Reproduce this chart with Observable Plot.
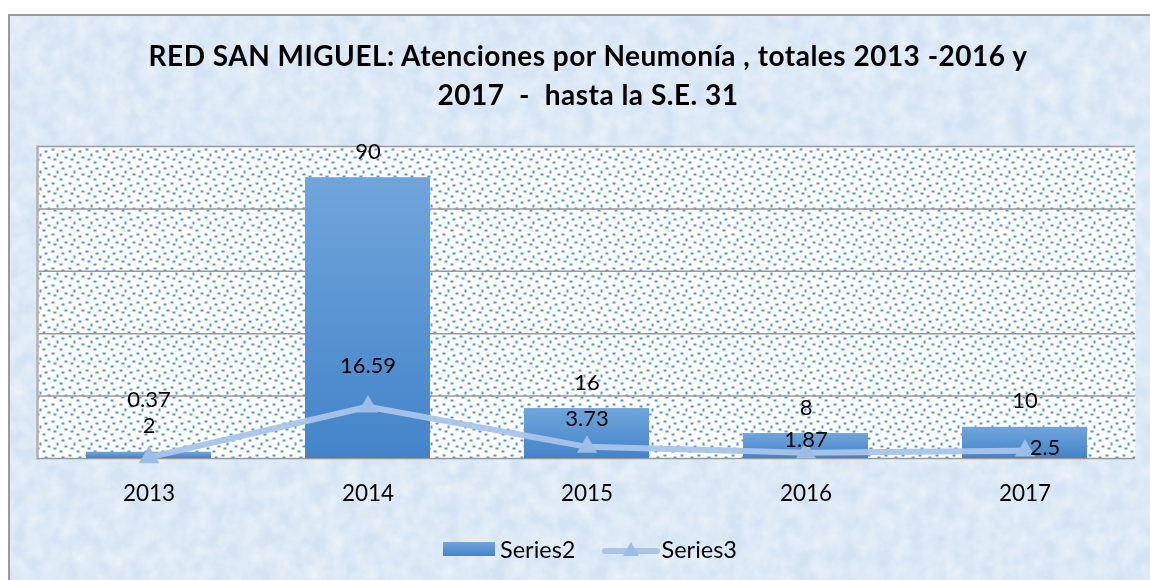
<!DOCTYPE html>
<html><head><meta charset="utf-8">
<script src="https://cdn.jsdelivr.net/npm/d3@7"></script>
<script src="https://cdn.jsdelivr.net/npm/@observablehq/plot@0.6"></script>
<style>
html{overflow:hidden;scrollbar-width:none;}
::-webkit-scrollbar{display:none;width:0;height:0;}
html,body{margin:0;padding:0;background:#fff;}
body{width:1150px;height:580px;overflow:hidden;position:relative;font-family:Lato,"Open Sans",sans-serif;}
#frame{position:fixed;left:8px;top:14px;right:-20px;bottom:-20px;border-left:2px solid #9a9a9a;border-top:2px solid #9a9a9a;background:#dce9f7;overflow:hidden;}
#frame svg{position:absolute;left:0;top:0;}
#title{position:absolute;left:588px;top:36px;transform:translateX(-50%);text-align:center;font-weight:bold;font-size:28px;letter-spacing:0.5px;line-height:39px;color:#000;white-space:pre;}
#chart{position:absolute;left:0;top:130px;}
#legend{position:absolute;left:443px;top:535px;display:flex;align-items:center;font-size:23.5px;color:#000;}
#legend .item{display:flex;align-items:center;}
</style>
</head><body>
<div id="frame">
<svg width="1200" height="600"><defs><filter id="tex"><feTurbulence type="fractalNoise" baseFrequency="0.06" numOctaves="3" seed="4"/><feColorMatrix type="matrix" values="0 0 0 0 1  0 0 0 0 1  0 0 0 0 1  0 0 0 -1.4 1.0"/></filter></defs><rect width="1200" height="600" fill="#d5e4f4"/><rect width="1200" height="600" filter="url(#tex)" opacity="0.6"/></svg>
</div>
<div id="title">RED SAN MIGUEL: Atenciones por Neumonía , totales 2013 -2016 y
2017  -  hasta la S.E. 31</div>
<div id="chart"></div>
<div id="legend"></div>
<script>
const years = ["2013", "2014", "2015", "2016", "2017"];
const series2 = [2, 90, 16, 8, 10];
const series3 = [0.37, 16.59, 3.73, 1.87, 2.5];
const series2Labels = ["2", "90", "16", "8", "10"];
const series3Labels = ["0.37", "16.59", "3.73", "1.87", "2.5"];
const yTicks = [0, 20, 40, 60, 80, 100];
const seriesNames = ["Series2", "Series3"];

const rows = years.map((y, i) => ({year: y, s2: series2[i], s3: series3[i], l2: series2Labels[i], l3: series3Labels[i]}));

// label placement offsets (style, px)
const s3Offsets = [[0, -57], [0, -41], [0, -28], [0, -13], [20, -3]];

const lineColor = "#a9c5ea";
const triColor = "#9dbce6";

const marks = [
  Plot.frame({fill: "url(#dots)", stroke: "none"}),
  Plot.ruleY(yTicks, {stroke: "#999999", strokeWidth: 1.5}),
  Plot.frame({anchor: "left", stroke: "#b0b0b0", strokeWidth: 2.5}),
  Plot.barY(rows, {x: "year", y: "s2", fill: "url(#barGrad)"}),
  Plot.text(rows, {x: "year", y: "s2", text: "l2", dy: -26, fontSize: 22, fill: "#000"}),
  Plot.line(rows, {x: "year", y: "s3", stroke: lineColor, strokeWidth: 6, strokeOpacity: 0.95}),
  Plot.dot(rows, {x: "year", y: "s3", symbol: "triangle", r: 7.5, fill: triColor, stroke: "none"}),
  ...rows.map((d, i) => Plot.text([d], {x: "year", y: "s3", text: "l3", dx: s3Offsets[i][0], dy: s3Offsets[i][1], fontSize: 22, fill: "#000"}))
];

const svg = Plot.plot({
  width: 1150,
  height: 400,
  marginLeft: 37,
  marginRight: 15,
  marginTop: 16,
  marginBottom: 72,
  style: {background: "transparent", fontFamily: "Lato, 'Open Sans', sans-serif", fontSize: "22.5px", color: "#000", overflow: "visible"},
  x: {type: "band", domain: years, paddingInner: 0.43, paddingOuter: 0.215, tickSize: 0, tickPadding: 27, label: null},
  y: {domain: [0, 100], axis: null},
  marks
});

const ns = "http://www.w3.org/2000/svg";
const defs = document.createElementNS(ns, "defs");
defs.innerHTML = `
<pattern id="dots" patternUnits="userSpaceOnUse" width="17" height="17">
  <rect width="17" height="17" fill="#ffffff"/>
  <g fill="#5595d7">
    <rect x="0" y="1" width="3" height="2"/>
    <rect x="10" y="3" width="3" height="2"/>
    <rect x="5" y="6" width="2" height="3"/>
    <rect x="13" y="9" width="3" height="2"/>
    <rect x="2" y="11" width="3" height="2"/>
    <rect x="8" y="14" width="3" height="2"/>
  </g>
</pattern>
<linearGradient id="barGrad" x1="0" y1="0" x2="0" y2="1">
  <stop offset="0" stop-color="#70a5db"/>
  <stop offset="1" stop-color="#4384c9"/>
</linearGradient>`;
svg.insertBefore(defs, svg.firstChild);
document.getElementById("chart").appendChild(svg);

// legend
const leg = document.getElementById("legend");
leg.innerHTML = `
<div class="item"><svg width="57" height="16"><defs><linearGradient id="lg2" x1="0" y1="0" x2="0" y2="1"><stop offset="0" stop-color="#70a5db"/><stop offset="1" stop-color="#4384c9"/></linearGradient></defs><rect x="0" y="1" width="52" height="14" fill="url(#lg2)"/></svg><span>${seriesNames[0]}</span></div>
<div class="item" style="margin-left:26px"><svg width="60" height="20"><line x1="3" y1="12" x2="55" y2="12" stroke="${lineColor}" stroke-width="6" stroke-linecap="round"/><path d="M29,3 L37,17 L21,17 Z" fill="${triColor}"/></svg><span>${seriesNames[1]}</span></div>`;
</script>
</body></html>
